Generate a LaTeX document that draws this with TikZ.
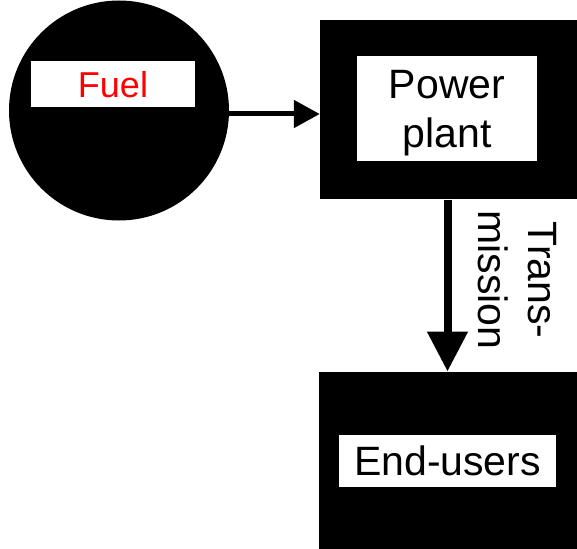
\documentclass[tikz,border=0pt]{standalone}
\usepackage{fontspec}
\setmainfont{Liberation Sans}
\usetikzlibrary{arrows.meta}
\begin{document}
\begin{tikzpicture}[x=1pt,y=-1pt,
  blackbox/.style={fill=black,draw=none,inner sep=0pt,rectangle},
  whitebox/.style={fill=white,draw=none,inner sep=0pt,rectangle,align=center,text depth=0pt},
  bigtext/.style={font=\fontsize{41}{49}\selectfont},
  harrow/.style={line width=5pt,-{Triangle[length=26pt,width=27pt]}},
  varrow/.style={line width=8pt,-{Triangle[length=40pt,width=39pt]}}]
\useasboundingbox[fill=white] (0,0) rectangle (577,548);
% Fuel circle
\node[circle,fill=black,draw=none,minimum size=220pt,inner sep=0pt] (fuel) at (119,110.5) {};
\node[whitebox,minimum width=164pt,minimum height=46pt,text=red,font=\fontsize{36}{43}\selectfont] (fueltxt) at (113,84) {Fuel};
% Power plant
\node[blackbox,minimum width=257pt,minimum height=179.3pt] (plant) at (448.5,109.7) {};
\node[whitebox,bigtext,minimum width=180pt,minimum height=104pt] (planttxt) at (447,108.5) {Power\\plant};
% End-users
\node[blackbox,minimum width=258pt,minimum height=180pt] (users) at (448,461.7) {};
\node[whitebox,bigtext,minimum width=217pt,minimum height=51.7pt] (userstxt) at (447.5,460.8) {End-users};
% connectors
\coordinate (hs) at ([yshift=-3.5pt]fuel.east);
\draw[harrow] (hs) -- (hs -| plant.west);
\coordinate (vs) at ([xshift=-1pt]plant.south);
\draw[varrow] (vs) -- (vs |- users.north);
\node[rotate=-90,align=center,inner sep=0pt,text depth=0pt,font=\fontsize{41}{50}\selectfont] (trans) at (517.5,280) {Trans-\\mission};
\end{tikzpicture}
\end{document}
